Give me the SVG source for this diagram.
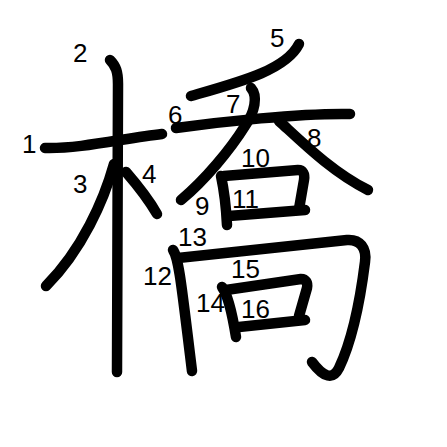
<svg xmlns="http://www.w3.org/2000/svg" width="447" height="447" viewBox="0 0 447 447">
<style>
.s{fill:none;stroke:#000;stroke-width:10.5;stroke-linecap:round;stroke-linejoin:round}
.n{font-family:"Liberation Sans",Arial,sans-serif;font-size:26px;fill:#000}
</style>
<rect width="447" height="447" fill="#fff"/>
<g id="strokes">
<path id="s1" class="s" d="M45,148 C80,149 125,138 162,134"/>
<path id="s2" class="s" d="M110,60 C116,66 118,72 118,84 L117,372"/>
<path id="s3" class="s" d="M114,164 C104,200 82,250 46,286"/>
<path id="s4" class="s" d="M126,172 C139,187 149,200 157,214"/>
<path id="s5" class="s" d="M299,44 C286,70 240,82 191,96"/>
<path id="s6" class="s" d="M176,128 C220,122 300,113 350,114"/>
<path id="s7" class="s" d="M251,88 C258,96 255,112 245,126 C230,150 205,180 181,200"/>
<path id="s8" class="s" d="M279,121 C302,142 332,172 368,190"/>
<path id="s9" class="s" d="M221,176 C224,190 226,205 227,225"/>
<path id="s10" class="s" d="M224,176 L298,170 C303,170 305,174 304,180 L299,209"/>
<path id="s11" class="s" d="M229,216 L305,210"/>
<path id="s12" class="s" d="M173,250 C179,258 182,290 192,371"/>
<path id="s13" class="s" d="M178,258 L347,240 C360,239 367,248 365,262 C359,310 350,345 339,368 C333,380 324,378 312,362"/>
<path id="s14" class="s" d="M222,287 C228,295 232,312 236,337"/>
<path id="s15" class="s" d="M226,290 L301,279 C306,279 308,283 307,288 L299,316"/>
<path id="s16" class="s" d="M239,327 L305,320"/>
</g>
<g id="labels">
<text class="n" x="22" y="153">1</text>
<text class="n" x="73" y="62">2</text>
<text class="n" x="73" y="193">3</text>
<text class="n" x="142" y="183">4</text>
<text class="n" x="270" y="47">5</text>
<text class="n" x="168" y="124">6</text>
<text class="n" x="226" y="113">7</text>
<text class="n" x="307" y="147">8</text>
<text class="n" x="195" y="215">9</text>
<text class="n" x="241" y="167">10</text>
<text class="n" x="232" y="208">11</text>
<text class="n" x="143" y="285">12</text>
<text class="n" x="178" y="246">13</text>
<text class="n" x="196" y="312">14</text>
<text class="n" x="231" y="278">15</text>
<text class="n" x="241" y="318">16</text>
</g>
</svg>
